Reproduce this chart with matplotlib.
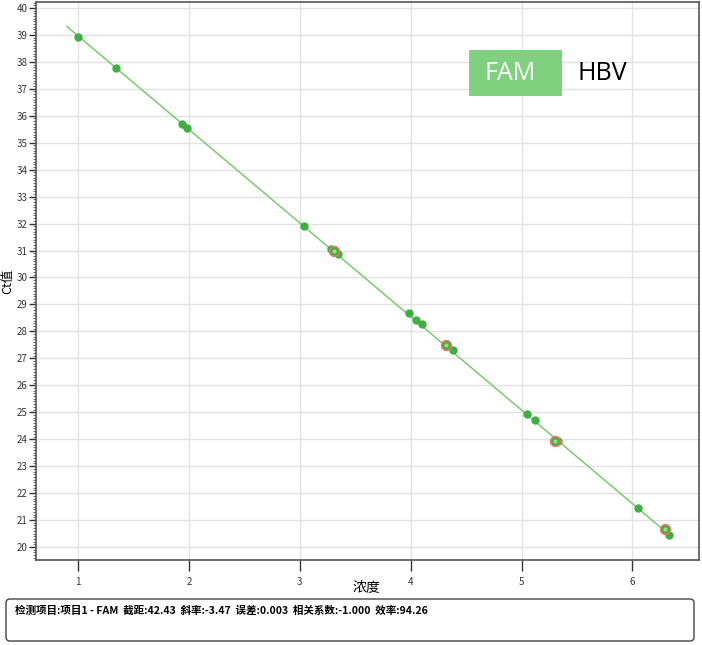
import matplotlib.pyplot as plt
from matplotlib.patches import FancyBboxPatch, Rectangle
from matplotlib.ticker import MultipleLocator

plt.rcParams['font.family'] = ['Noto Sans CJK SC', 'DejaVu Sans']

# standard curve samples (log concentration, Ct)
conc = [1.00, 1.34, 1.94, 1.98, 3.04, 3.28, 3.34, 3.98, 4.05, 4.10,
        4.38, 5.05, 5.12, 5.33, 6.05, 6.33]
ct = [38.92, 37.78, 35.70, 35.56, 31.90, 31.06, 30.86, 28.67, 28.42, 28.26,
      27.30, 24.92, 24.70, 23.93, 21.44, 20.46]

# highlighted (selected) samples
sel_conc = [3.31, 4.32, 5.30, 6.29]
sel_ct = [31.00, 27.50, 23.93, 20.66]

# fit results
intercept = 42.43
slope = -3.47
fit_x = [0.90, 6.35]
fit_y = [intercept + slope * v for v in fit_x]

info = '检测项目:项目1 - FAM  截距:42.43  斜率:-3.47  误差:0.003  相关系数:-1.000  效率:94.26'

W, H = 702, 645
fig = plt.figure(figsize=(W / 100, H / 100), dpi=100)
ax = fig.add_axes([36 / W, 1 - 560 / H, (699 - 36) / W, (560 - 2) / H])

ax.plot(fit_x, fit_y, color='#7acb6f', lw=1.1, zorder=2)
ax.plot(conc, ct, 'o', color='#3fae43', ms=5, zorder=3)
ax.plot(sel_conc, sel_ct, 'o', mfc='#3fae43', mec='#e07a6a', mew=1.2, ms=7, zorder=4)
ax.plot(sel_conc, sel_ct, 'o', color='#9be07a', ms=2, zorder=5)

ax.set_xlim(0.62, 6.6)
ax.set_ylim(19.52, 40.22)
ax.set_xticks([1, 2, 3, 4, 5, 6])
ax.set_yticks(range(20, 41))
ax.yaxis.set_minor_locator(MultipleLocator(0.1))
ax.grid(True, color='#e2e2e2', lw=1)
ax.set_axisbelow(True)

ax.tick_params(axis='x', length=8, width=1, labelsize=7, pad=4, colors='#333333')
ax.tick_params(axis='y', length=5, width=1, labelsize=7, pad=1, colors='#333333')
ax.tick_params(axis='y', which='minor', length=2, width=0.6, colors='#555555')
for s in ax.spines.values():
    s.set_color('#555555')
    s.set_linewidth(1.2)

ax.set_ylabel('Ct值', fontsize=9, labelpad=2)
fig.text(366 / W, 1 - 588 / H, '浓度', fontsize=10, ha='center', va='center')

# channel label
fig.patches.append(Rectangle((469 / W, 1 - 96 / H), 93 / W, 46 / H,
                             transform=fig.transFigure, fc='#7fd07f', ec='none'))
fig.text(510 / W, 1 - 73 / H, 'FAM', fontsize=18, color='white',
         ha='center', va='center', family='Open Sans')
fig.text(577 / W, 1 - 73 / H, 'HBV', fontsize=18, color='black',
         ha='left', va='center', family='Open Sans')

# info box at the bottom
box = FancyBboxPatch((6 / W, 1 - 641 / H), 688 / W, 42 / H,
                     boxstyle='round,pad=0,rounding_size=0.006',
                     transform=fig.transFigure, fc='white', ec='#444444', lw=1)
fig.patches.append(box)
fig.text(15 / W, 1 - 611 / H, info, fontsize=7.6, va='center', ha='left',
         fontweight='bold')

fig.savefig('out.png', dpi=100)
